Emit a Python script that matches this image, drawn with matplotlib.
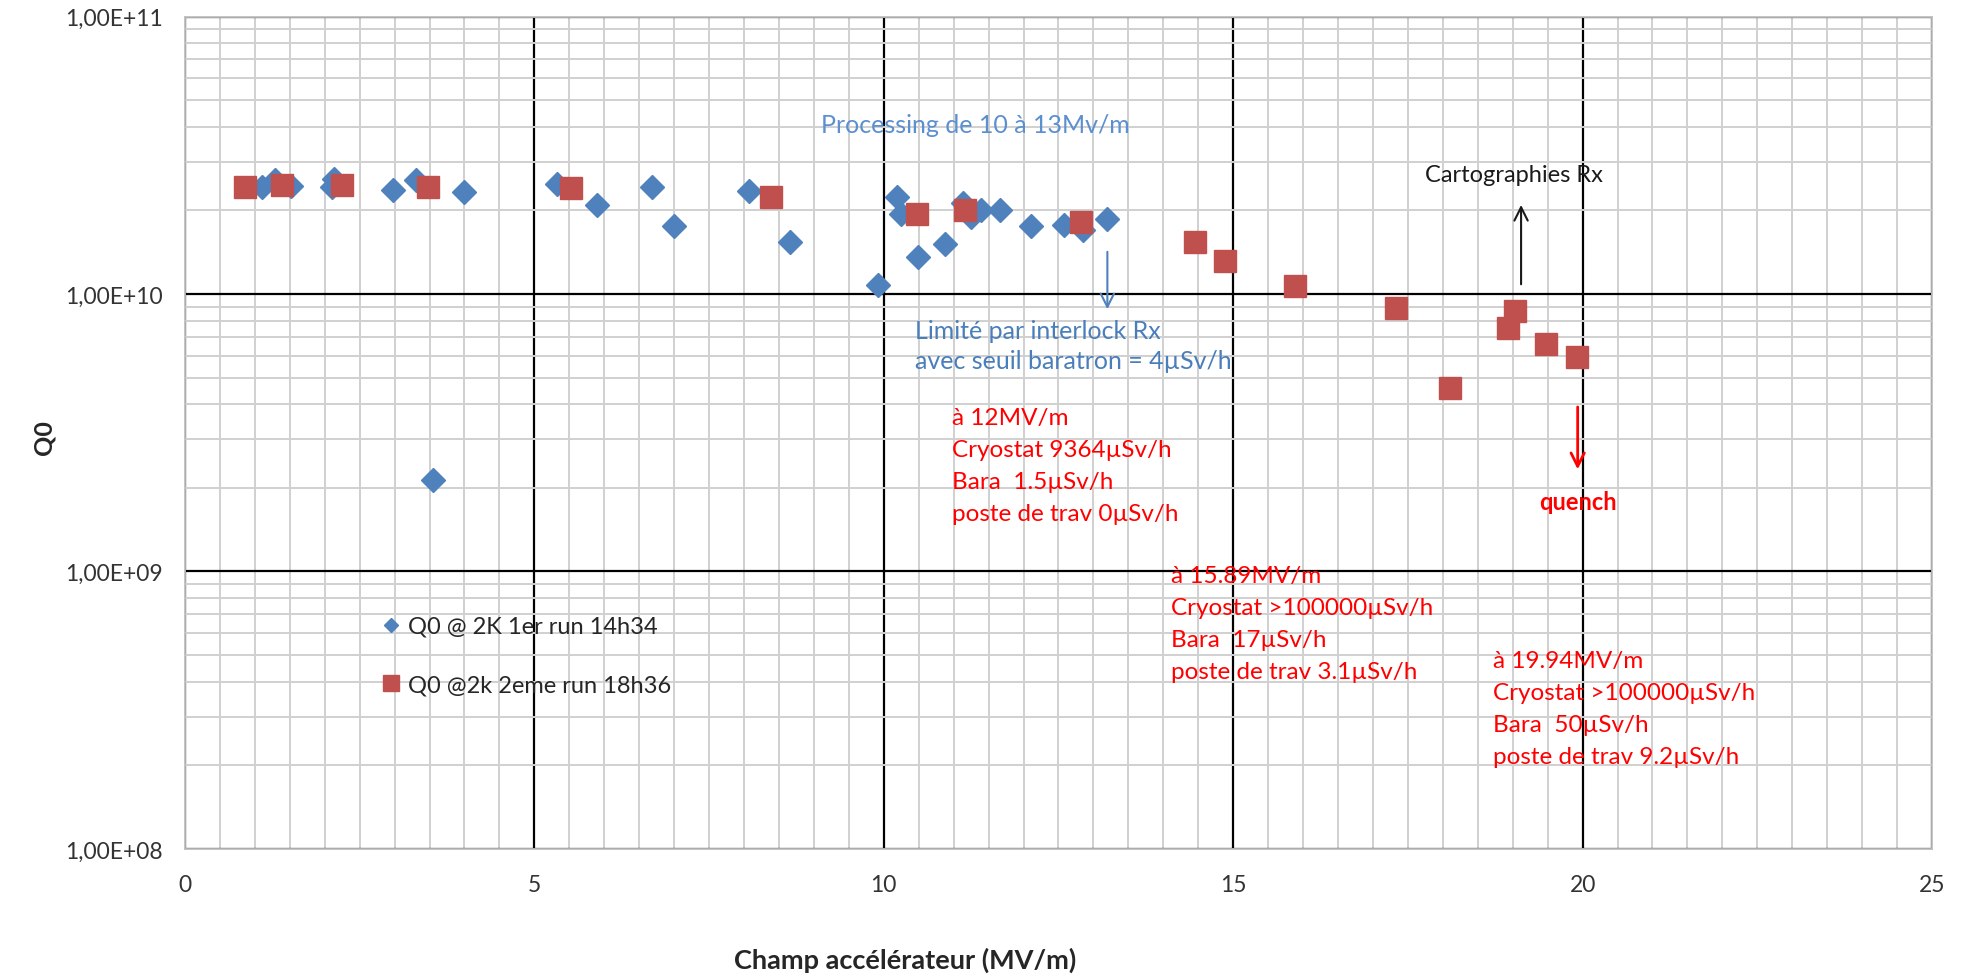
import matplotlib
matplotlib.use("Agg")
import matplotlib.pyplot as plt
from matplotlib.lines import Line2D
from matplotlib.ticker import FixedLocator, FuncFormatter, NullFormatter
import numpy as np

plt.rcParams['font.family'] = ['Lato', 'DejaVu Sans']

# run 1 (14h34) : champ accélérateur (MV/m) / Q0
run1_e = [1.10, 1.29, 1.52, 2.10, 2.14, 2.98, 3.31, 3.55, 4.00, 5.32, 5.90, 6.68,
          7.00, 8.07, 8.66, 9.92, 10.19, 10.24, 10.49, 10.88, 11.14, 11.25, 11.39,
          11.67, 12.11, 12.58, 12.85, 13.20]
run1_q = [2.43e10, 2.57e10, 2.45e10, 2.43e10, 2.60e10, 2.38e10, 2.57e10, 2.13e9,
          2.33e10, 2.50e10, 2.09e10, 2.43e10, 1.76e10, 2.35e10, 1.54e10, 1.08e10,
          2.24e10, 1.95e10, 1.36e10, 1.51e10, 2.12e10, 1.90e10, 2.00e10, 2.00e10,
          1.76e10, 1.77e10, 1.70e10, 1.86e10]

# run 2 (18h36)
run2_e = [0.86, 1.39, 2.25, 3.48, 5.52, 8.39, 10.47, 11.16, 12.82, 14.45, 14.89,
          15.89, 17.33, 18.11, 18.93, 19.04, 19.47, 19.92]
run2_q = [2.43e10, 2.48e10, 2.48e10, 2.44e10, 2.40e10, 2.24e10, 1.95e10, 2.00e10,
          1.82e10, 1.54e10, 1.32e10, 1.07e10, 8.87e9, 4.58e9, 7.54e9, 8.65e9,
          6.60e9, 5.92e9]

labels = ['Q0 @ 2K 1er run 14h34', 'Q0 @2k 2eme run 18h36']
blue = '#4F81BD'
red = '#C0504D'

notes_red = [
    (10.98, 10 ** 9.383, "à 12MV/m\nCryostat 9364µSv/h\nBara  1.5µSv/h\nposte de trav 0µSv/h"),
    (14.11, 10 ** 8.814, "à 15.89MV/m\nCryostat >100000µSv/h\nBara  17µSv/h\nposte de trav 3.1µSv/h"),
    (18.72, 10 ** 8.507, "à 19.94MV/m\nCryostat >100000µSv/h\nBara  50µSv/h\nposte de trav 9.2µSv/h"),
]

fig = plt.figure(figsize=(19.61, 9.78), dpi=100)
ax = fig.add_axes([0.0943, 0.1309, 0.8909, 0.8512])

ax.set_yscale('log')
ax.set_xlim(0, 25)
ax.set_ylim(1e8, 1e11)

# grille facon Excel
ax.xaxis.set_major_locator(FixedLocator([0, 5, 10, 15, 20, 25]))
ax.xaxis.set_minor_locator(FixedLocator(np.arange(0, 25.01, 0.5)))
ax.yaxis.set_major_locator(FixedLocator([1e8, 1e9, 1e10, 1e11]))
ax.yaxis.set_minor_locator(FixedLocator([m * 10 ** d for d in (8, 9, 10) for m in range(2, 10)]))
ax.yaxis.set_minor_formatter(NullFormatter())
ax.yaxis.set_major_formatter(FuncFormatter(lambda v, p: f"{v:.2E}".replace('.', ',')))
ax.xaxis.set_major_formatter(FuncFormatter(lambda v, p: f"{v:g}"))
ax.grid(which='minor', color='#d0d0d0', lw=1.4)
ax.grid(which='major', color='#000000', lw=1.6)
ax.set_axisbelow(True)
ax.tick_params(which='both', length=0)
ax.tick_params(axis='y', pad=16, labelsize=16.5, labelcolor='#333333')
ax.tick_params(axis='x', pad=18, labelsize=16.5, labelcolor='#333333')
for s in ax.spines.values():
    s.set_color('#bfbfbf')
    s.set_linewidth(1.3)

ax.plot(run1_e, run1_q, ls='none', marker='D', ms=12.5, color=blue, zorder=3)
ax.plot(run2_e, run2_q, ls='none', marker='s', ms=16.5, color=red, zorder=4)

handles = [Line2D([], [], ls='none', marker='D', ms=7.5, color=blue),
           Line2D([], [], ls='none', marker='s', ms=11, color=red)]
ax.legend(handles, labels, loc='upper left', bbox_to_anchor=(0.112, 0.280),
          frameon=False, fontsize=17, handlelength=0.9, handletextpad=0.25,
          labelspacing=1.6, borderpad=0, borderaxespad=0, labelcolor='#262626')

# annotations
ax.text(9.1, 10 ** 10.612, "Processing de 10 à 13Mv/m", color='#5b8fd0', fontsize=18, va='center')
ax.annotate('', xy=(13.2, 10 ** 9.935), xytext=(13.2, 10 ** 10.162),
            arrowprops=dict(arrowstyle='->', color=blue, lw=1.5, mutation_scale=24))
ax.text(10.45, 10 ** 9.815, "Limité par interlock Rx\navec seuil baratron = 4µSv/h",
        color='#4a7ebb', fontsize=18, va='center', linespacing=1.35)

ax.text(17.75, 10 ** 10.432, "Cartographies Rx", color='#1a1a1a', fontsize=17, va='center')
ax.annotate('', xy=(19.12, 10 ** 10.331), xytext=(19.12, 10 ** 10.025),
            arrowprops=dict(arrowstyle='->', color='#1a1a1a', lw=1.5, mutation_scale=24))

ax.annotate('', xy=(19.93, 10 ** 9.358), xytext=(19.93, 10 ** 9.603),
            arrowprops=dict(arrowstyle='->', color='#ff0000', lw=2, mutation_scale=24))
ax.text(19.93, 10 ** 9.254, "quench", color='#ff0000', fontsize=17, fontweight='bold',
        va='center', ha='center')

for x, y, t in notes_red:
    ax.text(x, y, t, color='#ff0000', fontsize=17.5, va='center', linespacing=1.65)

fig.text(0.0223, 0.553, "Q0", rotation=90, fontsize=18, fontweight='bold',
         ha='center', va='center', color='#262626')
fig.text(0.4615, 0.018, "Champ accélérateur (MV/m)", fontsize=19.5, fontweight='bold',
         ha='center', va='center', color='#262626')

fig.savefig('out.png', dpi=100)
